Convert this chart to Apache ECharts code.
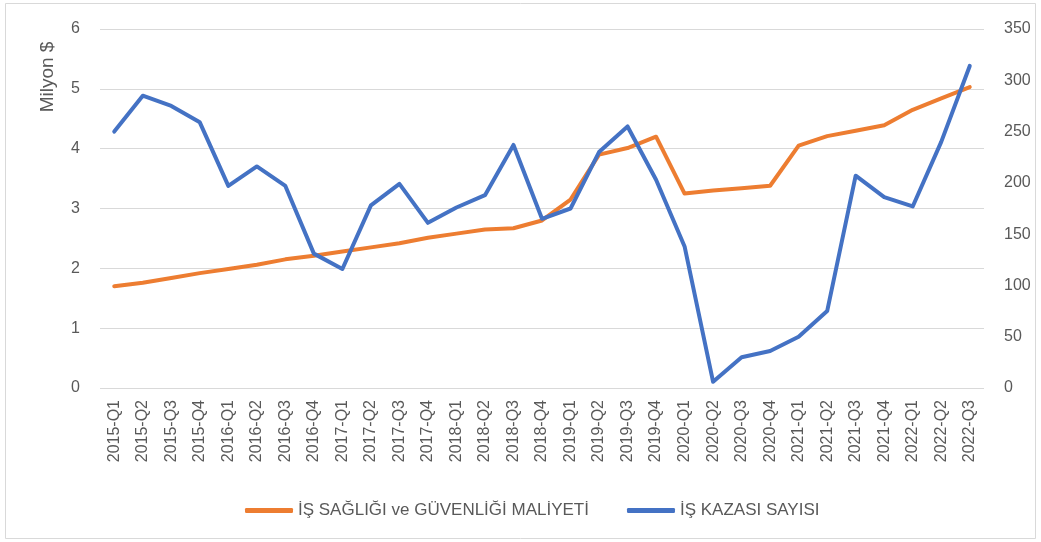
<!DOCTYPE html>
<html>
<head>
<meta charset="utf-8">
<script src="https://cdn.jsdelivr.net/npm/echarts@6/dist/echarts.min.js"></script>
<style>
  html, body { margin: 0; padding: 0; background: #fff; }
  #chart { width: 1041px; height: 542px; }
</style>
</head>
<body>
<div id="chart"></div>
<script>
// çeyrekler
const quarters = [
  '2015-Q1', '2015-Q2', '2015-Q3', '2015-Q4',
  '2016-Q1', '2016-Q2', '2016-Q3', '2016-Q4',
  '2017-Q1', '2017-Q2', '2017-Q3', '2017-Q4',
  '2018-Q1', '2018-Q2', '2018-Q3', '2018-Q4',
  '2019-Q1', '2019-Q2', '2019-Q3', '2019-Q4',
  '2020-Q1', '2020-Q2', '2020-Q3', '2020-Q4',
  '2021-Q1', '2021-Q2', '2021-Q3', '2021-Q4',
  '2022-Q1', '2022-Q2', '2022-Q3'
];

// milyon $ (sol eksen)
const costValues = [
  1.70, 1.76, 1.84, 1.92, 1.99, 2.06, 2.15, 2.21,
  2.28, 2.35, 2.42, 2.51, 2.58, 2.65, 2.67, 2.80,
  3.15, 3.90, 4.01, 4.20, 3.25, 3.30, 3.34, 3.38,
  4.05, 4.21, 4.30, 4.39, 4.65, 4.84, 5.03
];

// kaza sayısı (sağ eksen)
const accidentValues = [
  250, 285, 275, 259, 197, 216, 197, 131,
  116, 178, 199, 161, 176, 188, 237, 165,
  175, 230, 255, 203, 138, 6, 30, 36,
  50, 75, 207, 186, 177, 240, 314
];

const leftTicks = [0, 6, 1];     // min, max, interval
const rightTicks = [0, 350, 50];

const labelColor = '#595959';
const gridColor = '#d9d9d9';
const fontFam = '"Liberation Sans", "DejaVu Sans", sans-serif';

let myChart = echarts.init(document.getElementById('chart'));
let option = {
  backgroundColor: '#fff',
  animation: false,
  textStyle: { fontFamily: fontFam },
  grid: {
    top: 29,
    left: 100,
    right: 57,
    bottom: 154,
    containLabel: false
  },
  // dış çerçeve ve eksen başlığı
  graphic: [
    {
      type: 'rect',
      shape: { x: 5.5, y: 3.5, width: 1030, height: 535 },
      style: { fill: 'none', stroke: gridColor, lineWidth: 1 },
      silent: true
    },
    {
      type: 'text',
      x: 48,
      y: 77,
      rotation: Math.PI / 2,
      style: {
        text: 'Milyon $',
        fill: labelColor,
        font: '19px ' + fontFam,
        align: 'center',
        verticalAlign: 'middle'
      }
    }
  ],
  legend: {
    top: 497,
    left: 240,
    itemWidth: 48,
    itemHeight: 5,
    itemGap: 38,
    icon: 'roundRect',
    textStyle: { color: labelColor, fontSize: 17, fontFamily: fontFam },
    data: ['İŞ SAĞLIĞI ve GÜVENLİĞİ MALİYETİ', 'İŞ KAZASI SAYISI']
  },
  xAxis: {
    type: 'category',
    data: quarters,
    boundaryGap: true,
    axisTick: { show: false },
    axisLine: { show: false },
    axisLabel: {
      interval: 0,
      rotate: 90,
      color: labelColor,
      fontSize: 16,
      margin: 12
    }
  },
  yAxis: [
    {
      type: 'value',
      min: leftTicks[0],
      max: leftTicks[1],
      interval: leftTicks[2],
      axisLine: { show: false },
      axisTick: { show: false },
      axisLabel: { color: labelColor, fontSize: 16, margin: 20 },
      splitLine: { lineStyle: { color: gridColor, width: 1 } }
    },
    {
      type: 'value',
      position: 'right',
      min: rightTicks[0],
      max: rightTicks[1],
      interval: rightTicks[2],
      axisLine: { show: false },
      axisTick: { show: false },
      axisLabel: { color: labelColor, fontSize: 16, margin: 20 },
      splitLine: { show: false }
    }
  ],
  series: [
    {
      name: 'İŞ SAĞLIĞI ve GÜVENLİĞİ MALİYETİ',
      type: 'line',
      yAxisIndex: 0,
      data: costValues,
      symbol: 'none',
      lineStyle: { color: '#ED7D31', width: 4, cap: 'round', join: 'round' },
      itemStyle: { color: '#ED7D31' },
      z: 2
    },
    {
      name: 'İŞ KAZASI SAYISI',
      type: 'line',
      yAxisIndex: 1,
      data: accidentValues,
      symbol: 'none',
      lineStyle: { color: '#4472C4', width: 4, cap: 'round', join: 'round' },
      itemStyle: { color: '#4472C4' },
      z: 3
    }
  ]
};
myChart.setOption(option);
</script>
</body>
</html>
